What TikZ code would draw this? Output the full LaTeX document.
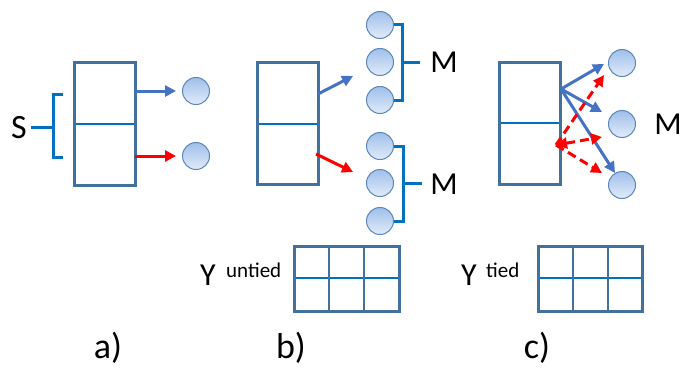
\documentclass[tikz,border=0pt]{standalone}
\usepackage{fontspec}
\setmainfont{Carlito}
\usetikzlibrary{arrows.meta}
\definecolor{frame}{HTML}{41719C}
\definecolor{divider}{HTML}{0070C0}
\definecolor{bluearrow}{HTML}{4472C4}
\definecolor{circtop}{HTML}{9FBFEA}
\definecolor{circbot}{HTML}{E2ECFA}
\definecolor{circedge}{HTML}{5B87B9}

\begin{document}
\begin{tikzpicture}[x=1pt,y=-1pt,
  cellframe/.style={draw=frame, line width=3pt},
  divline/.style={draw=divider, line width=2.5pt},
  gridline/.style={draw=frame, line width=2.5pt},
  bracketline/.style={draw=divider, line width=3pt},
  unit/.style={circle, draw=circedge, line width=1pt, top color=circtop,
    bottom color=circbot, minimum size=27pt, inner sep=0pt},
  tip/.tip={Triangle[length=11pt,width=11pt]},
  bluearr/.style={draw=bluearrow, line width=3pt, -tip},
  redarr/.style={draw=red, line width=3pt, -tip},
  reddash/.style={draw=red, line width=3pt, dash pattern=on 9pt off 5pt, -tip},
  bigtxt/.style={font=\fontsize{32}{38}\selectfont, inner sep=0pt, anchor=base},
  suptxt/.style={font=\fontsize{21}{25}\selectfont, inner sep=0pt, anchor=base west},
  captxt/.style={font=\fontsize{36}{42}\selectfont, inner sep=0pt, anchor=base}]
\useasboundingbox (0,0) rectangle (680,369);

% ---------- a) ----------
\draw[divline] (74,124) -- (135,124);
\draw[cellframe] (74,63) rectangle (135,185);
\coordinate (a-up) at (135,91);
\coordinate (a-lo) at (135,156);
\node[unit] (a1) at (196,91) {};
\node[unit] (a2) at (196,156) {};
\draw[bluearr, shorten >=6pt] (a-up) -- (a1);
\draw[redarr, shorten >=6pt] (a-lo) -- (a2);
\node[bigtxt, font=\fontsize{34}{40}\selectfont] (S) at (19,138) {S};
\draw[bracketline] (63,94) -- (53,94) -- (53,157) -- (63,157);
\coordinate (S-brace) at (53,127);
\draw[bracketline] (S.east |- S-brace) ++(4,0) -- (S-brace);
\node[captxt] (la) at (108,358) {a)};

% ---------- b) ----------
\draw[divline] (257,124) -- (318,124);
\draw[cellframe] (257,63) rectangle (318,184);
\node[unit] (b1) at (380,25) {};
\node[unit] (b2) at (380,62) {};
\node[unit] (b3) at (380,100) {};
\node[unit] (b4) at (380,146) {};
\node[unit] (b5) at (380,183) {};
\node[unit] (b6) at (380,221) {};
\coordinate (b-up) at (318,94);
\coordinate (b-upend) at (353,76);
\coordinate (b-lo) at (316,154);
\coordinate (b-loend) at (353,172);
\draw[bluearr] (b-up) -- (b-upend);
\draw[redarr] (b-lo) -- (b-loend);
\draw[bracketline] (394,25) -- (402,25) -- (402,100) -- (394,100);
\draw[bracketline] (402,63) -- (420,63);
\draw[bracketline] (394,146) -- (403,146) -- (403,221) -- (394,221);
\draw[bracketline] (403,183) -- (422,183);
\node[bigtxt] (M1) at (444,73) {M};
\node[bigtxt] (M2) at (444,194) {M};
\node[captxt] (lb) at (291,358) {b)};

% untied output grid
\draw[divline] (294,278) -- (399,278);
\draw[gridline] (329,246) -- (329,311);
\draw[gridline] (364,246) -- (364,311);
\draw[cellframe] (294,246) rectangle (399,311);
\node[bigtxt] (Yu) at (208,285) {Y};
\node[suptxt] (untied) at (226,277) {untied};

% ---------- c) ----------
\draw[divline] (499,123) -- (560,123);
\draw[cellframe] (499,63) rectangle (560,184);
\node[unit] (c1) at (622,63) {};
\node[unit] (c2) at (622,124) {};
\node[unit] (c3) at (622,185) {};
\node[bigtxt] (M3) at (668,134) {M};
\coordinate (c-up) at (561,89);
\coordinate (c-t1) at (604,64);
\coordinate (c-t2) at (602,112);
\coordinate (c-t3) at (615,173);
\draw[bluearr] (c-up) -- (c-t1);
\draw[bluearr] (c-up) -- (c-t2);
\draw[bluearr] (c-up) -- (c-t3);
\coordinate (c-lo) at (556,145);
\coordinate (c-r1) at (604,75);
\coordinate (c-r2) at (602,137);
\coordinate (c-r3) at (602,173);
\draw[reddash] (c-lo) -- (c-r1);
\draw[reddash, tip-tip] (c-lo) -- (c-r2);
\draw[reddash] (c-lo) -- (c-r3);
\node[captxt] (lc) at (537,358) {c)};

% tied output grid
\draw[divline] (538,278) -- (642,278);
\draw[gridline] (573,246) -- (573,311);
\draw[gridline] (608,246) -- (608,311);
\draw[cellframe] (538,246) rectangle (642,311);
\node[bigtxt] (Yt) at (469,285) {Y};
\node[suptxt] (tied) at (486,277) {tied};
\end{tikzpicture}
\end{document}
